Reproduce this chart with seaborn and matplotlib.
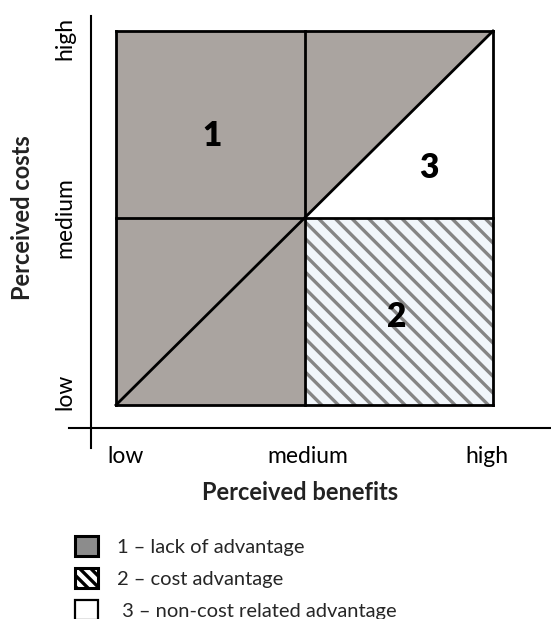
import matplotlib
matplotlib.use("Agg")
import matplotlib.pyplot as plt
from matplotlib.patches import Patch
import seaborn as sns
import pandas as pd

# Levels shown on both axes
levels = ["low", "medium", "high"]
benefit_tick_pos = [0.05, 1.02, 1.97]
cost_tick_pos = [0.07, 1.00, 1.96]

# Region polygons in (benefit, cost) level units
lack_benefit = [0, 0, 2, 1, 1]
lack_cost = [0, 2, 2, 1, 0]
cost_adv_benefit = [1, 2, 2, 1]
cost_adv_cost = [0, 0, 1, 1]
noncost_benefit = [1, 2, 2]
noncost_cost = [1, 1, 2]

# Region number labels
region_numbers = ["1", "2", "3"]
number_benefit = [0.51, 1.49, 1.66]
number_cost = [1.44, 0.47, 1.27]

# Divider lines: outline, middle cross, diagonal
seg_id = [0, 0, 1, 1, 2, 2, 3, 3, 4, 4, 5, 5, 6, 6]
seg_benefit = [0, 2, 2, 2, 2, 0, 0, 0, 1, 1, 0, 2, 0, 2]
seg_cost = [0, 0, 0, 2, 2, 2, 2, 0, 0, 2, 1, 1, 0, 2]

legend_labels = ["1 \u2013 lack of advantage", "2 \u2013 cost advantage",
                 " 3 \u2013 non-cost related advantage"]

gray = "#aaa4a0"
hatch_bg = "#f1f6fb"
hatch_col = "#858585"

sns.set_theme(style="white")
plt.rcParams["font.family"] = ["Lato", "DejaVu Sans"]
plt.rcParams["hatch.linewidth"] = 2.4

fig = plt.figure(figsize=(5.51, 6.19), dpi=100)
ax = fig.add_axes([116 / 551, (619 - 405) / 619, 377 / 551, 374 / 619])

ax.fill(lack_benefit, lack_cost, facecolor=gray, edgecolor="none", zorder=1)
ax.fill(cost_adv_benefit, cost_adv_cost, facecolor=hatch_bg, edgecolor=hatch_col,
        hatch="\\\\", linewidth=0, zorder=1)
ax.fill(noncost_benefit, noncost_cost, facecolor="white", edgecolor="none", zorder=1)

lines = pd.DataFrame({"seg": seg_id, "benefit": seg_benefit, "cost": seg_cost})
sns.lineplot(data=lines, x="benefit", y="cost", units="seg", estimator=None,
             sort=False, color="black", linewidth=2.0, ax=ax, zorder=3)
for ln in ax.lines:
    ln.set_clip_on(False)
    ln.set_solid_capstyle("projecting")

for lab, bx, cy in zip(region_numbers, number_benefit, number_cost):
    ax.text(bx, cy, lab, ha="center", va="center", fontsize=24,
            fontweight="heavy", color="black", zorder=4)

ax.set_xlim(0, 2)
ax.set_ylim(0, 2)

# Axis lines crossing outside the square
for side in ["top", "right"]:
    ax.spines[side].set_visible(False)
ax.spines["left"].set_position(("axes", -25 / 377))
ax.spines["bottom"].set_position(("axes", -23 / 374))
ax.spines["left"].set_bounds(-0.23, 2.08)
ax.spines["bottom"].set_bounds(-0.25, 2.30)
for side in ["left", "bottom"]:
    ax.spines[side].set_color("black")
    ax.spines[side].set_linewidth(1.5)

ax.set_xticks(benefit_tick_pos)
ax.set_xticklabels(levels)
ax.set_yticks(cost_tick_pos)
ax.set_yticklabels(levels, rotation=90, va="center")
ax.tick_params(axis="both", length=0, labelsize=16.5, colors="black")
ax.tick_params(axis="x", pad=13)
ax.tick_params(axis="y", pad=11)

ax.set_xlabel("Perceived benefits", fontsize=17, fontweight="bold", color="#222222")
ax.xaxis.set_label_coords(0.488, -0.235)
ax.xaxis.label.set_va("center")
ax.set_ylabel("Perceived costs", fontsize=17, fontweight="bold", color="#222222")
ax.yaxis.set_label_coords(-0.247, 0.5)
ax.yaxis.label.set_va("center")

handles = [
    Patch(facecolor="#8c8c8c", edgecolor="black", linewidth=2.2),
    Patch(facecolor="white", edgecolor="black", linewidth=2.2, hatch="\\\\\\"),
    Patch(facecolor="white", edgecolor="black", linewidth=1.6),
]
if hasattr(handles[1], "set_hatchcolor"):
    handles[1].set_hatchcolor(hatch_col)
fig.legend(handles, legend_labels, loc="upper left",
           bbox_to_anchor=(75 / 551, 1 - 536 / 619), frameon=False,
           fontsize=14.5, handlelength=1.15, handleheight=1.15, handletextpad=0.95,
           labelspacing=0.6, borderpad=0, borderaxespad=0)

fig.savefig("out.png", dpi=100)
